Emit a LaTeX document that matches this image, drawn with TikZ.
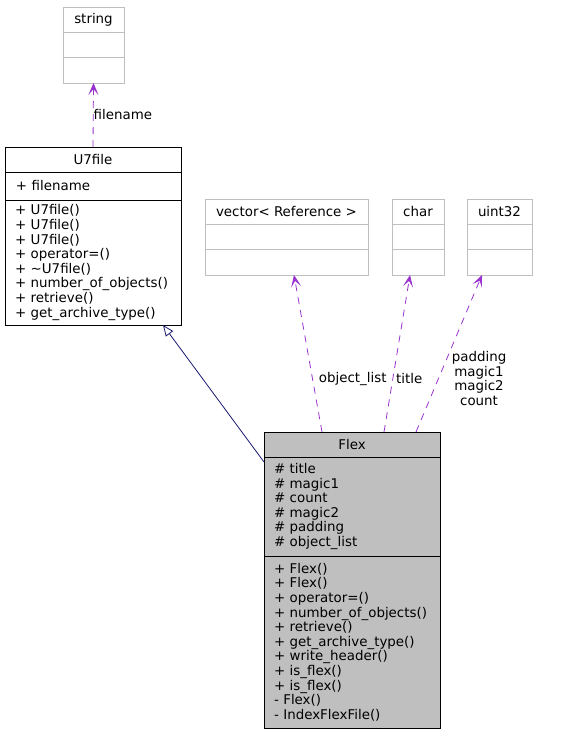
\documentclass[tikz,border=0pt]{standalone}
\usepackage{fontspec}
\setmainfont{DejaVu Sans}
\usetikzlibrary{positioning,calc,arrows.meta}

\definecolor{depcol}{HTML}{9A32CD}
\definecolor{inhcol}{HTML}{191970}
\definecolor{nodoc}{HTML}{BFBFBF}
\definecolor{cur}{HTML}{BFBFBF}

\newcommand{\dxfont}{\fontsize{13.4}{14.6}\selectfont\hyphenpenalty=10000\exhyphenpenalty=10000}

\tikzset{
  cls/.style={draw,line width=0.8pt,inner sep=0pt,outer sep=0pt,font=\dxfont},
  ctitle/.style={cls,minimum width=#1,minimum height=25pt},
  cpart/.style 2 args={cls,text width=#1,inner xsep=10pt,align=left,minimum height=#2},
  dep/.style={depcol,line width=0.8pt,dash pattern=on 7pt off 6pt,
              -{Stealth[length=12pt,width=10pt,inset=6pt]}},
  inh/.style={inhcol,line width=0.8pt,-{Triangle[open,length=11pt,width=9pt]}},
  lbl/.style={inner sep=0pt,font=\dxfont,text=black,align=center}
}

\begin{document}
\begin{tikzpicture}[x=1pt,y=-1pt]
\useasboundingbox (0,0) rectangle (560,733);

% string
\node [ctitle=61pt,draw=nodoc,anchor=north west] at (63,7) (str) {string};
\node [cpart={41pt}{25pt},draw=nodoc,below=0pt of str] (str2) {};
\node [cpart={41pt}{26pt},draw=nodoc,below=0pt of str2] (str3) {};

% U7file
\node [ctitle=176pt,fill=white,anchor=north west] at (5,147) (u7) {U7file};
\node [cpart={156pt}{28pt},fill=white,below=0pt of u7] (u7a) {\hspace{1pt}+ filename};
\node [cpart={156pt}{125pt},fill=white,below=0pt of u7a] (u7m) {+ U7file()\\
+ U7file()\\
+ U7file()\\
+ operator=()\\
+ \textasciitilde U7file()\\
+ number\_of\_objects()\\
+ retrieve()\\
+ get\_archive\_type()};

% vector< Reference >
\node [ctitle=163pt,draw=nodoc,anchor=north west] at (205,199) (vec) {vector< Reference >};
\node [cpart={143pt}{25pt},draw=nodoc,below=0pt of vec] (vec2) {};
\node [cpart={143pt}{26pt},draw=nodoc,below=0pt of vec2] (vec3) {};

% char
\node [ctitle=52pt,draw=nodoc,anchor=north west] at (392,199) (chr) {char};
\node [cpart={32pt}{25pt},draw=nodoc,below=0pt of chr] (chr2) {};
\node [cpart={32pt}{26pt},draw=nodoc,below=0pt of chr2] (chr3) {};

% uint32
\node [ctitle=65pt,draw=nodoc,anchor=north west] at (467,199) (uint) {uint32};
\node [cpart={45pt}{25pt},draw=nodoc,below=0pt of uint] (uint2) {};
\node [cpart={45pt}{26pt},draw=nodoc,below=0pt of uint2] (uint3) {};

% Flex
\node [ctitle=176pt,fill=cur,anchor=north west] at (264,432) (fx) {Flex};
\node [cpart={156pt}{99pt},fill=cur,below=0pt of fx] (fxa) {\# title\\
\# magic1\\
\# count\\
\# magic2\\
\# padding\\
\# object\_list};
\node [cpart={156pt}{172pt},fill=cur,below=0pt of fxa] (fxm) {+ Flex()\\
+ Flex()\\
+ operator=()\\
+ number\_of\_objects()\\
+ retrieve()\\
+ get\_archive\_type()\\
+ write\_header()\\
+ is\_flex()\\
+ is\_flex()\\
- Flex()\\
- IndexFlexFile()};
%
\coordinate (fx1) at ($(fx.north west)+(58,0)$);
\coordinate (fx2) at ($(fx.north west)+(120,0)$);
\coordinate (fx3) at ($(fx.north west)+(152,0)$);
\coordinate (fx4) at ($(fx.south west)+(0,5)$);
\coordinate (vec4) at ($(vec3.south west)+(89,0)$);
\coordinate (chr4) at ($(chr3.south west)+(18,0)$);
\coordinate (uint4) at ($(uint3.south west)+(15,0)$);
\coordinate (u7b) at ($(u7m.south west)+(158,0)$);
%
\draw [dep] (u7.north) -- (str3.south) node[lbl,midway,right=0pt] (lfile) {filename};
\draw [dep] (fx1) -- (vec4) node[lbl,pos=.34,right=6pt] (lobj) {object\_list};
\draw [dep] (fx2) -- (chr4) node[lbl,pos=.34,right=3pt] (ltitle) {title};
\draw [dep] (fx3) -- (uint4) node[lbl,pos=.34,right=13pt] (lpad) {padding\\magic1\\magic2\\count};
\draw [inh] (fx4) -- (u7b);
\end{tikzpicture}
\end{document}
